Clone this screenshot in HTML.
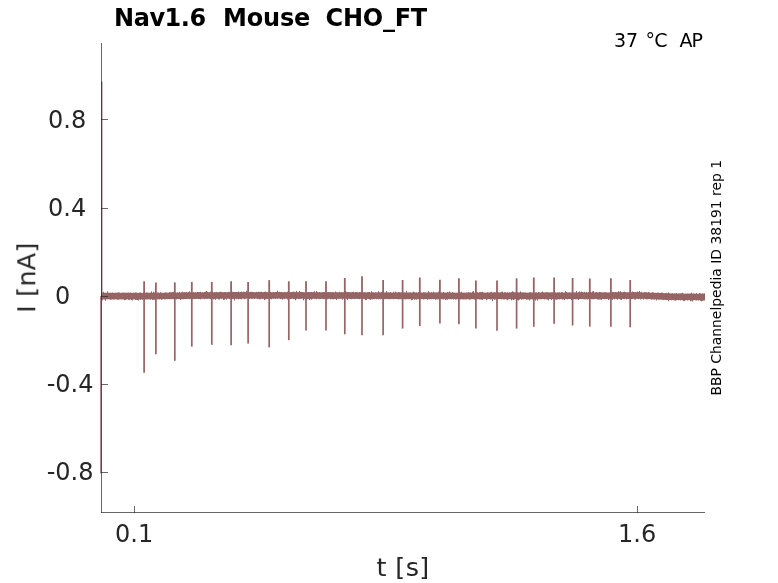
<!DOCTYPE html>
<html><head><meta charset="utf-8"><style>
html,body{margin:0;padding:0;background:#fff;width:778px;height:583px;overflow:hidden}
svg{display:block}
text{font-family:"DejaVu Sans","Liberation Sans",sans-serif;fill:#262626}
</style></head><body>
<svg width="778" height="583" viewBox="0 0 778 583">
<rect width="778" height="583" fill="#fff"/>
<g fill="#966464" stroke="none"><rect x="101" y="292.29" width="1" height="7.73"/><rect x="102" y="292.76" width="1" height="7.51"/><rect x="103" y="291.90" width="1" height="7.41"/><rect x="104" y="292.70" width="1" height="6.87"/><rect x="105" y="292.83" width="1" height="7.97"/><rect x="106" y="292.74" width="1" height="6.67"/><rect x="107" y="291.40" width="1" height="7.93"/><rect x="108" y="292.61" width="1" height="6.72"/><rect x="109" y="292.87" width="1" height="6.58"/><rect x="110" y="292.61" width="1" height="7.14"/><rect x="111" y="292.77" width="1" height="6.81"/><rect x="112" y="292.48" width="1" height="7.00"/><rect x="113" y="292.84" width="1" height="6.69"/><rect x="114" y="292.84" width="1" height="6.65"/><rect x="115" y="292.69" width="1" height="6.70"/><rect x="116" y="292.61" width="1" height="6.87"/><rect x="117" y="292.69" width="1" height="6.91"/><rect x="118" y="292.25" width="1" height="7.63"/><rect x="119" y="292.54" width="1" height="6.81"/><rect x="120" y="292.89" width="1" height="6.47"/><rect x="121" y="292.67" width="1" height="6.80"/><rect x="122" y="292.71" width="1" height="6.78"/><rect x="123" y="292.46" width="1" height="6.97"/><rect x="124" y="292.73" width="1" height="7.52"/><rect x="125" y="292.67" width="1" height="7.33"/><rect x="126" y="292.65" width="1" height="6.83"/><rect x="127" y="292.74" width="1" height="6.58"/><rect x="128" y="292.45" width="1" height="7.41"/><rect x="129" y="292.74" width="1" height="7.19"/><rect x="130" y="292.51" width="1" height="7.03"/><rect x="131" y="292.71" width="1" height="7.16"/><rect x="132" y="292.85" width="1" height="7.50"/><rect x="133" y="292.62" width="1" height="6.87"/><rect x="134" y="292.76" width="1" height="6.63"/><rect x="135" y="292.39" width="1" height="7.60"/><rect x="136" y="292.50" width="1" height="7.45"/><rect x="137" y="292.87" width="1" height="7.12"/><rect x="138" y="292.87" width="1" height="7.62"/><rect x="139" y="292.56" width="1" height="6.81"/><rect x="140" y="292.39" width="1" height="7.49"/><rect x="141" y="292.86" width="1" height="6.64"/><rect x="142" y="292.85" width="1" height="6.88"/><rect x="143" y="292.66" width="1" height="6.76"/><rect x="144" y="292.25" width="1" height="7.01"/><rect x="145" y="292.68" width="1" height="6.75"/><rect x="146" y="292.42" width="1" height="7.03"/><rect x="147" y="292.61" width="1" height="6.85"/><rect x="148" y="292.59" width="1" height="6.71"/><rect x="149" y="292.82" width="1" height="6.49"/><rect x="150" y="292.67" width="1" height="7.10"/><rect x="151" y="291.38" width="1" height="7.87"/><rect x="152" y="292.82" width="1" height="7.05"/><rect x="153" y="291.75" width="1" height="8.10"/><rect x="154" y="292.47" width="1" height="7.32"/><rect x="155" y="291.73" width="1" height="7.62"/><rect x="156" y="292.79" width="1" height="6.43"/><rect x="157" y="292.46" width="1" height="6.90"/><rect x="158" y="292.62" width="1" height="6.57"/><rect x="159" y="292.74" width="1" height="6.72"/><rect x="160" y="292.11" width="1" height="7.09"/><rect x="161" y="292.77" width="1" height="7.05"/><rect x="162" y="292.73" width="1" height="6.58"/><rect x="163" y="292.73" width="1" height="6.40"/><rect x="164" y="292.59" width="1" height="6.82"/><rect x="165" y="292.38" width="1" height="6.93"/><rect x="166" y="292.56" width="1" height="6.56"/><rect x="167" y="292.65" width="1" height="6.53"/><rect x="168" y="292.65" width="1" height="6.44"/><rect x="169" y="292.15" width="1" height="7.01"/><rect x="170" y="292.25" width="1" height="6.96"/><rect x="171" y="292.22" width="1" height="6.98"/><rect x="172" y="292.12" width="1" height="6.93"/><rect x="173" y="291.99" width="1" height="7.19"/><rect x="174" y="292.25" width="1" height="8.09"/><rect x="175" y="292.39" width="1" height="6.75"/><rect x="176" y="292.63" width="1" height="6.70"/><rect x="177" y="292.36" width="1" height="6.70"/><rect x="178" y="292.52" width="1" height="6.58"/><rect x="179" y="291.82" width="1" height="7.28"/><rect x="180" y="292.56" width="1" height="7.26"/><rect x="181" y="292.35" width="1" height="7.01"/><rect x="182" y="291.66" width="1" height="7.51"/><rect x="183" y="292.28" width="1" height="6.99"/><rect x="184" y="292.12" width="1" height="6.82"/><rect x="185" y="292.29" width="1" height="6.84"/><rect x="186" y="291.84" width="1" height="7.15"/><rect x="187" y="292.41" width="1" height="6.56"/><rect x="188" y="292.04" width="1" height="6.85"/><rect x="189" y="291.27" width="1" height="7.87"/><rect x="190" y="292.29" width="1" height="6.63"/><rect x="191" y="291.96" width="1" height="6.99"/><rect x="192" y="292.40" width="1" height="6.78"/><rect x="193" y="292.06" width="1" height="7.00"/><rect x="194" y="292.37" width="1" height="6.68"/><rect x="195" y="292.09" width="1" height="6.85"/><rect x="196" y="292.39" width="1" height="6.55"/><rect x="197" y="291.99" width="1" height="6.92"/><rect x="198" y="291.99" width="1" height="7.07"/><rect x="199" y="292.09" width="1" height="6.90"/><rect x="200" y="291.79" width="1" height="7.57"/><rect x="201" y="292.29" width="1" height="6.59"/><rect x="202" y="292.23" width="1" height="6.55"/><rect x="203" y="292.36" width="1" height="6.40"/><rect x="204" y="292.07" width="1" height="7.06"/><rect x="205" y="291.71" width="1" height="7.04"/><rect x="206" y="291.00" width="1" height="7.97"/><rect x="207" y="291.74" width="1" height="7.17"/><rect x="208" y="292.23" width="1" height="6.51"/><rect x="209" y="292.15" width="1" height="6.71"/><rect x="210" y="291.72" width="1" height="7.38"/><rect x="211" y="292.24" width="1" height="6.72"/><rect x="212" y="291.68" width="1" height="7.06"/><rect x="213" y="292.34" width="1" height="7.04"/><rect x="214" y="292.02" width="1" height="6.91"/><rect x="215" y="292.30" width="1" height="7.55"/><rect x="216" y="291.91" width="1" height="6.95"/><rect x="217" y="292.24" width="1" height="6.47"/><rect x="218" y="292.21" width="1" height="7.30"/><rect x="219" y="291.92" width="1" height="7.48"/><rect x="220" y="291.83" width="1" height="6.86"/><rect x="221" y="291.81" width="1" height="7.14"/><rect x="222" y="292.26" width="1" height="6.40"/><rect x="223" y="292.18" width="1" height="7.78"/><rect x="224" y="292.09" width="1" height="7.60"/><rect x="225" y="292.04" width="1" height="6.76"/><rect x="226" y="292.24" width="1" height="7.38"/><rect x="227" y="292.20" width="1" height="6.45"/><rect x="228" y="291.78" width="1" height="6.94"/><rect x="229" y="292.05" width="1" height="7.03"/><rect x="230" y="291.90" width="1" height="6.75"/><rect x="231" y="292.00" width="1" height="6.88"/><rect x="232" y="291.76" width="1" height="7.25"/><rect x="233" y="291.92" width="1" height="6.99"/><rect x="234" y="291.97" width="1" height="8.56"/><rect x="235" y="291.94" width="1" height="6.81"/><rect x="236" y="291.99" width="1" height="7.22"/><rect x="237" y="292.07" width="1" height="6.68"/><rect x="238" y="291.47" width="1" height="7.88"/><rect x="239" y="292.13" width="1" height="6.78"/><rect x="240" y="292.00" width="1" height="6.97"/><rect x="241" y="291.56" width="1" height="7.88"/><rect x="242" y="292.14" width="1" height="6.44"/><rect x="243" y="291.61" width="1" height="7.18"/><rect x="244" y="291.98" width="1" height="7.22"/><rect x="245" y="292.14" width="1" height="6.63"/><rect x="246" y="290.75" width="1" height="7.92"/><rect x="247" y="291.92" width="1" height="6.65"/><rect x="248" y="291.98" width="1" height="7.54"/><rect x="249" y="292.11" width="1" height="6.87"/><rect x="250" y="291.79" width="1" height="6.84"/><rect x="251" y="291.76" width="1" height="7.10"/><rect x="252" y="291.95" width="1" height="6.92"/><rect x="253" y="292.08" width="1" height="6.62"/><rect x="254" y="292.16" width="1" height="6.65"/><rect x="255" y="292.17" width="1" height="6.46"/><rect x="256" y="291.84" width="1" height="6.73"/><rect x="257" y="292.11" width="1" height="7.08"/><rect x="258" y="291.73" width="1" height="7.13"/><rect x="259" y="291.98" width="1" height="7.31"/><rect x="260" y="291.90" width="1" height="7.37"/><rect x="261" y="291.71" width="1" height="7.03"/><rect x="262" y="292.16" width="1" height="6.80"/><rect x="263" y="292.12" width="1" height="6.70"/><rect x="264" y="291.85" width="1" height="8.12"/><rect x="265" y="291.58" width="1" height="7.81"/><rect x="266" y="292.09" width="1" height="7.04"/><rect x="267" y="292.19" width="1" height="6.78"/><rect x="268" y="292.13" width="1" height="6.46"/><rect x="269" y="290.53" width="1" height="8.17"/><rect x="270" y="291.89" width="1" height="7.11"/><rect x="271" y="292.20" width="1" height="7.12"/><rect x="272" y="292.24" width="1" height="6.48"/><rect x="273" y="291.95" width="1" height="6.81"/><rect x="274" y="292.18" width="1" height="6.54"/><rect x="275" y="291.99" width="1" height="6.92"/><rect x="276" y="291.93" width="1" height="6.69"/><rect x="277" y="290.66" width="1" height="8.25"/><rect x="278" y="292.06" width="1" height="6.56"/><rect x="279" y="291.72" width="1" height="6.91"/><rect x="280" y="292.10" width="1" height="7.01"/><rect x="281" y="291.90" width="1" height="7.00"/><rect x="282" y="292.20" width="1" height="7.37"/><rect x="283" y="292.23" width="1" height="6.60"/><rect x="284" y="291.81" width="1" height="7.32"/><rect x="285" y="292.21" width="1" height="6.42"/><rect x="286" y="292.12" width="1" height="6.56"/><rect x="287" y="291.72" width="1" height="7.80"/><rect x="288" y="292.20" width="1" height="7.13"/><rect x="289" y="291.93" width="1" height="6.92"/><rect x="290" y="292.20" width="1" height="6.86"/><rect x="291" y="292.00" width="1" height="6.86"/><rect x="292" y="291.89" width="1" height="6.76"/><rect x="293" y="291.60" width="1" height="7.53"/><rect x="294" y="291.82" width="1" height="7.27"/><rect x="295" y="292.09" width="1" height="8.17"/><rect x="296" y="290.91" width="1" height="8.23"/><rect x="297" y="292.26" width="1" height="6.40"/><rect x="298" y="292.15" width="1" height="6.93"/><rect x="299" y="290.94" width="1" height="7.93"/><rect x="300" y="291.93" width="1" height="7.01"/><rect x="301" y="291.87" width="1" height="6.94"/><rect x="302" y="292.05" width="1" height="6.63"/><rect x="303" y="292.14" width="1" height="8.21"/><rect x="304" y="292.26" width="1" height="6.67"/><rect x="305" y="292.09" width="1" height="6.60"/><rect x="306" y="292.26" width="1" height="7.68"/><rect x="307" y="292.14" width="1" height="6.90"/><rect x="308" y="292.01" width="1" height="6.97"/><rect x="309" y="292.06" width="1" height="8.01"/><rect x="310" y="292.09" width="1" height="6.87"/><rect x="311" y="291.97" width="1" height="7.80"/><rect x="312" y="292.17" width="1" height="6.75"/><rect x="313" y="291.83" width="1" height="6.86"/><rect x="314" y="291.27" width="1" height="7.63"/><rect x="315" y="292.32" width="1" height="6.52"/><rect x="316" y="291.00" width="1" height="8.27"/><rect x="317" y="292.00" width="1" height="6.85"/><rect x="318" y="292.33" width="1" height="6.40"/><rect x="319" y="291.93" width="1" height="7.29"/><rect x="320" y="292.28" width="1" height="6.80"/><rect x="321" y="292.26" width="1" height="6.49"/><rect x="322" y="292.07" width="1" height="6.84"/><rect x="323" y="292.11" width="1" height="6.99"/><rect x="324" y="292.04" width="1" height="7.02"/><rect x="325" y="292.30" width="1" height="6.60"/><rect x="326" y="292.34" width="1" height="6.91"/><rect x="327" y="292.15" width="1" height="7.11"/><rect x="328" y="291.96" width="1" height="6.88"/><rect x="329" y="292.18" width="1" height="6.67"/><rect x="330" y="292.10" width="1" height="7.24"/><rect x="331" y="292.17" width="1" height="6.77"/><rect x="332" y="292.08" width="1" height="7.24"/><rect x="333" y="292.20" width="1" height="7.11"/><rect x="334" y="292.25" width="1" height="6.74"/><rect x="335" y="291.52" width="1" height="7.51"/><rect x="336" y="292.07" width="1" height="7.90"/><rect x="337" y="292.35" width="1" height="6.40"/><rect x="338" y="292.29" width="1" height="6.61"/><rect x="339" y="291.84" width="1" height="7.02"/><rect x="340" y="292.27" width="1" height="6.50"/><rect x="341" y="292.18" width="1" height="6.69"/><rect x="342" y="292.07" width="1" height="7.68"/><rect x="343" y="292.23" width="1" height="6.52"/><rect x="344" y="292.27" width="1" height="6.60"/><rect x="345" y="291.00" width="1" height="7.78"/><rect x="346" y="291.89" width="1" height="6.98"/><rect x="347" y="292.10" width="1" height="8.04"/><rect x="348" y="292.07" width="1" height="6.73"/><rect x="349" y="292.13" width="1" height="6.72"/><rect x="350" y="292.20" width="1" height="6.80"/><rect x="351" y="292.20" width="1" height="6.91"/><rect x="352" y="291.96" width="1" height="7.00"/><rect x="353" y="291.77" width="1" height="6.99"/><rect x="354" y="292.38" width="1" height="6.75"/><rect x="355" y="292.11" width="1" height="6.78"/><rect x="356" y="292.05" width="1" height="6.86"/><rect x="357" y="292.22" width="1" height="6.70"/><rect x="358" y="292.40" width="1" height="6.66"/><rect x="359" y="292.05" width="1" height="7.14"/><rect x="360" y="292.04" width="1" height="6.76"/><rect x="361" y="292.42" width="1" height="6.53"/><rect x="362" y="291.86" width="1" height="7.18"/><rect x="363" y="292.25" width="1" height="6.56"/><rect x="364" y="292.22" width="1" height="6.89"/><rect x="365" y="292.18" width="1" height="7.98"/><rect x="366" y="292.43" width="1" height="7.50"/><rect x="367" y="292.16" width="1" height="6.70"/><rect x="368" y="292.06" width="1" height="7.09"/><rect x="369" y="292.05" width="1" height="7.22"/><rect x="370" y="292.44" width="1" height="7.46"/><rect x="371" y="291.16" width="1" height="8.13"/><rect x="372" y="292.16" width="1" height="7.08"/><rect x="373" y="292.36" width="1" height="6.65"/><rect x="374" y="292.46" width="1" height="6.66"/><rect x="375" y="292.14" width="1" height="6.72"/><rect x="376" y="292.28" width="1" height="6.94"/><rect x="377" y="292.49" width="1" height="6.46"/><rect x="378" y="291.20" width="1" height="8.11"/><rect x="379" y="292.30" width="1" height="6.57"/><rect x="380" y="292.37" width="1" height="6.95"/><rect x="381" y="291.87" width="1" height="7.05"/><rect x="382" y="291.51" width="1" height="7.42"/><rect x="383" y="292.43" width="1" height="6.80"/><rect x="384" y="292.41" width="1" height="6.71"/><rect x="385" y="292.45" width="1" height="6.66"/><rect x="386" y="291.13" width="1" height="7.95"/><rect x="387" y="292.31" width="1" height="6.68"/><rect x="388" y="292.30" width="1" height="6.92"/><rect x="389" y="292.55" width="1" height="6.71"/><rect x="390" y="292.02" width="1" height="6.89"/><rect x="391" y="292.52" width="1" height="6.61"/><rect x="392" y="292.57" width="1" height="6.45"/><rect x="393" y="291.86" width="1" height="7.41"/><rect x="394" y="292.44" width="1" height="6.57"/><rect x="395" y="291.55" width="1" height="7.40"/><rect x="396" y="292.32" width="1" height="6.81"/><rect x="397" y="292.46" width="1" height="6.65"/><rect x="398" y="292.04" width="1" height="7.29"/><rect x="399" y="292.17" width="1" height="7.11"/><rect x="400" y="292.33" width="1" height="6.80"/><rect x="401" y="292.37" width="1" height="6.82"/><rect x="402" y="292.10" width="1" height="7.13"/><rect x="403" y="292.38" width="1" height="6.77"/><rect x="404" y="292.42" width="1" height="6.79"/><rect x="405" y="292.44" width="1" height="6.97"/><rect x="406" y="290.94" width="1" height="8.30"/><rect x="407" y="292.46" width="1" height="6.66"/><rect x="408" y="292.44" width="1" height="6.84"/><rect x="409" y="292.30" width="1" height="6.89"/><rect x="410" y="292.37" width="1" height="6.82"/><rect x="411" y="292.61" width="1" height="7.63"/><rect x="412" y="292.33" width="1" height="7.47"/><rect x="413" y="291.66" width="1" height="7.33"/><rect x="414" y="292.19" width="1" height="7.57"/><rect x="415" y="292.47" width="1" height="6.89"/><rect x="416" y="292.32" width="1" height="7.23"/><rect x="417" y="292.57" width="1" height="6.73"/><rect x="418" y="292.00" width="1" height="7.22"/><rect x="419" y="292.31" width="1" height="6.71"/><rect x="420" y="292.23" width="1" height="7.01"/><rect x="421" y="292.50" width="1" height="6.58"/><rect x="422" y="292.58" width="1" height="6.42"/><rect x="423" y="292.16" width="1" height="7.28"/><rect x="424" y="292.32" width="1" height="6.87"/><rect x="425" y="292.34" width="1" height="6.76"/><rect x="426" y="292.57" width="1" height="6.51"/><rect x="427" y="292.55" width="1" height="7.18"/><rect x="428" y="291.10" width="1" height="8.07"/><rect x="429" y="292.31" width="1" height="6.91"/><rect x="430" y="292.55" width="1" height="6.50"/><rect x="431" y="292.08" width="1" height="7.14"/><rect x="432" y="292.53" width="1" height="6.52"/><rect x="433" y="291.71" width="1" height="7.55"/><rect x="434" y="292.40" width="1" height="6.63"/><rect x="435" y="292.49" width="1" height="7.27"/><rect x="436" y="292.33" width="1" height="7.08"/><rect x="437" y="292.45" width="1" height="6.91"/><rect x="438" y="291.58" width="1" height="7.73"/><rect x="439" y="292.25" width="1" height="6.93"/><rect x="440" y="292.58" width="1" height="6.79"/><rect x="441" y="292.34" width="1" height="6.74"/><rect x="442" y="292.51" width="1" height="6.78"/><rect x="443" y="292.00" width="1" height="7.39"/><rect x="444" y="292.56" width="1" height="6.55"/><rect x="445" y="292.59" width="1" height="7.31"/><rect x="446" y="292.55" width="1" height="6.97"/><rect x="447" y="292.04" width="1" height="7.62"/><rect x="448" y="292.40" width="1" height="6.66"/><rect x="449" y="291.59" width="1" height="7.66"/><rect x="450" y="292.43" width="1" height="6.78"/><rect x="451" y="292.62" width="1" height="6.63"/><rect x="452" y="291.91" width="1" height="7.24"/><rect x="453" y="292.55" width="1" height="6.97"/><rect x="454" y="292.66" width="1" height="6.40"/><rect x="455" y="292.69" width="1" height="6.93"/><rect x="456" y="292.66" width="1" height="6.72"/><rect x="457" y="292.64" width="1" height="6.50"/><rect x="458" y="292.33" width="1" height="7.99"/><rect x="459" y="291.88" width="1" height="7.66"/><rect x="460" y="292.43" width="1" height="7.02"/><rect x="461" y="291.78" width="1" height="7.46"/><rect x="462" y="292.63" width="1" height="6.75"/><rect x="463" y="292.58" width="1" height="6.89"/><rect x="464" y="292.66" width="1" height="6.76"/><rect x="465" y="292.68" width="1" height="6.53"/><rect x="466" y="292.32" width="1" height="7.18"/><rect x="467" y="292.57" width="1" height="6.65"/><rect x="468" y="292.18" width="1" height="7.14"/><rect x="469" y="292.26" width="1" height="7.35"/><rect x="470" y="292.41" width="1" height="7.12"/><rect x="471" y="292.58" width="1" height="6.62"/><rect x="472" y="291.67" width="1" height="7.45"/><rect x="473" y="291.10" width="1" height="8.26"/><rect x="474" y="292.70" width="1" height="6.78"/><rect x="475" y="292.09" width="1" height="8.19"/><rect x="476" y="291.60" width="1" height="7.92"/><rect x="477" y="292.21" width="1" height="7.13"/><rect x="478" y="292.51" width="1" height="6.68"/><rect x="479" y="292.13" width="1" height="7.35"/><rect x="480" y="292.06" width="1" height="7.42"/><rect x="481" y="292.06" width="1" height="7.55"/><rect x="482" y="291.76" width="1" height="8.02"/><rect x="483" y="292.47" width="1" height="6.70"/><rect x="484" y="292.57" width="1" height="6.53"/><rect x="485" y="292.65" width="1" height="6.45"/><rect x="486" y="292.69" width="1" height="7.47"/><rect x="487" y="292.10" width="1" height="7.18"/><rect x="488" y="292.50" width="1" height="6.62"/><rect x="489" y="292.47" width="1" height="6.64"/><rect x="490" y="292.13" width="1" height="7.39"/><rect x="491" y="291.75" width="1" height="7.49"/><rect x="492" y="292.49" width="1" height="8.66"/><rect x="493" y="292.40" width="1" height="6.75"/><rect x="494" y="292.07" width="1" height="7.66"/><rect x="495" y="292.43" width="1" height="7.03"/><rect x="496" y="292.55" width="1" height="6.77"/><rect x="497" y="292.09" width="1" height="6.99"/><rect x="498" y="292.19" width="1" height="7.04"/><rect x="499" y="292.56" width="1" height="6.58"/><rect x="500" y="292.22" width="1" height="6.91"/><rect x="501" y="291.87" width="1" height="7.48"/><rect x="502" y="291.48" width="1" height="7.71"/><rect x="503" y="292.69" width="1" height="6.71"/><rect x="504" y="292.19" width="1" height="7.30"/><rect x="505" y="292.31" width="1" height="6.76"/><rect x="506" y="292.54" width="1" height="7.00"/><rect x="507" y="292.30" width="1" height="7.86"/><rect x="508" y="292.54" width="1" height="6.91"/><rect x="509" y="292.28" width="1" height="6.80"/><rect x="510" y="292.42" width="1" height="6.80"/><rect x="511" y="292.13" width="1" height="8.24"/><rect x="512" y="291.32" width="1" height="8.15"/><rect x="513" y="291.86" width="1" height="8.25"/><rect x="514" y="292.28" width="1" height="7.15"/><rect x="515" y="292.25" width="1" height="6.80"/><rect x="516" y="292.21" width="1" height="6.94"/><rect x="517" y="292.06" width="1" height="8.05"/><rect x="518" y="292.51" width="1" height="7.91"/><rect x="519" y="292.39" width="1" height="7.24"/><rect x="520" y="291.45" width="1" height="7.62"/><rect x="521" y="292.29" width="1" height="7.36"/><rect x="522" y="292.33" width="1" height="6.91"/><rect x="523" y="292.47" width="1" height="6.93"/><rect x="524" y="292.38" width="1" height="6.70"/><rect x="525" y="292.47" width="1" height="6.71"/><rect x="526" y="292.61" width="1" height="7.07"/><rect x="527" y="292.69" width="1" height="6.87"/><rect x="528" y="292.63" width="1" height="6.86"/><rect x="529" y="292.19" width="1" height="8.28"/><rect x="530" y="292.20" width="1" height="7.28"/><rect x="531" y="292.40" width="1" height="6.77"/><rect x="532" y="292.52" width="1" height="6.95"/><rect x="533" y="292.44" width="1" height="6.87"/><rect x="534" y="292.57" width="1" height="6.86"/><rect x="535" y="292.46" width="1" height="8.12"/><rect x="536" y="292.26" width="1" height="7.11"/><rect x="537" y="292.67" width="1" height="7.91"/><rect x="538" y="291.91" width="1" height="7.23"/><rect x="539" y="292.18" width="1" height="7.06"/><rect x="540" y="292.63" width="1" height="6.78"/><rect x="541" y="292.19" width="1" height="6.91"/><rect x="542" y="291.48" width="1" height="7.69"/><rect x="543" y="292.32" width="1" height="6.75"/><rect x="544" y="292.45" width="1" height="6.94"/><rect x="545" y="292.24" width="1" height="7.05"/><rect x="546" y="292.19" width="1" height="7.06"/><rect x="547" y="292.17" width="1" height="7.44"/><rect x="548" y="292.34" width="1" height="8.02"/><rect x="549" y="292.35" width="1" height="6.74"/><rect x="550" y="292.47" width="1" height="6.60"/><rect x="551" y="292.30" width="1" height="7.79"/><rect x="552" y="292.18" width="1" height="7.00"/><rect x="553" y="292.52" width="1" height="6.56"/><rect x="554" y="292.45" width="1" height="7.39"/><rect x="555" y="292.33" width="1" height="7.16"/><rect x="556" y="292.52" width="1" height="7.31"/><rect x="557" y="292.24" width="1" height="7.13"/><rect x="558" y="292.51" width="1" height="6.63"/><rect x="559" y="292.17" width="1" height="7.28"/><rect x="560" y="292.55" width="1" height="6.58"/><rect x="561" y="292.13" width="1" height="7.05"/><rect x="562" y="292.23" width="1" height="7.35"/><rect x="563" y="292.61" width="1" height="6.65"/><rect x="564" y="292.47" width="1" height="7.73"/><rect x="565" y="291.21" width="1" height="7.89"/><rect x="566" y="292.03" width="1" height="6.98"/><rect x="567" y="292.48" width="1" height="6.86"/><rect x="568" y="292.49" width="1" height="6.51"/><rect x="569" y="292.26" width="1" height="6.72"/><rect x="570" y="292.43" width="1" height="6.55"/><rect x="571" y="292.44" width="1" height="7.66"/><rect x="572" y="292.02" width="1" height="7.60"/><rect x="573" y="292.41" width="1" height="6.80"/><rect x="574" y="292.34" width="1" height="6.68"/><rect x="575" y="292.43" width="1" height="6.90"/><rect x="576" y="290.97" width="1" height="8.24"/><rect x="577" y="292.58" width="1" height="6.64"/><rect x="578" y="292.30" width="1" height="7.65"/><rect x="579" y="291.39" width="1" height="7.85"/><rect x="580" y="292.21" width="1" height="6.78"/><rect x="581" y="291.55" width="1" height="7.43"/><rect x="582" y="291.94" width="1" height="7.04"/><rect x="583" y="292.38" width="1" height="6.72"/><rect x="584" y="291.81" width="1" height="7.50"/><rect x="585" y="292.39" width="1" height="6.98"/><rect x="586" y="291.82" width="1" height="7.30"/><rect x="587" y="292.53" width="1" height="7.04"/><rect x="588" y="292.01" width="1" height="7.16"/><rect x="589" y="292.52" width="1" height="6.44"/><rect x="590" y="291.88" width="1" height="7.02"/><rect x="591" y="292.40" width="1" height="6.80"/><rect x="592" y="291.50" width="1" height="7.70"/><rect x="593" y="290.99" width="1" height="8.19"/><rect x="594" y="292.40" width="1" height="6.73"/><rect x="595" y="292.30" width="1" height="6.61"/><rect x="596" y="292.09" width="1" height="6.94"/><rect x="597" y="292.40" width="1" height="7.06"/><rect x="598" y="292.34" width="1" height="7.26"/><rect x="599" y="291.94" width="1" height="7.57"/><rect x="600" y="292.17" width="1" height="7.34"/><rect x="601" y="292.22" width="1" height="7.63"/><rect x="602" y="292.36" width="1" height="6.56"/><rect x="603" y="292.30" width="1" height="6.69"/><rect x="604" y="292.26" width="1" height="6.88"/><rect x="605" y="292.10" width="1" height="7.03"/><rect x="606" y="292.40" width="1" height="6.68"/><rect x="607" y="292.44" width="1" height="6.50"/><rect x="608" y="292.43" width="1" height="7.61"/><rect x="609" y="292.42" width="1" height="6.89"/><rect x="610" y="292.18" width="1" height="6.71"/><rect x="611" y="292.44" width="1" height="6.46"/><rect x="612" y="291.86" width="1" height="7.92"/><rect x="613" y="292.02" width="1" height="6.82"/><rect x="614" y="292.23" width="1" height="7.13"/><rect x="615" y="292.05" width="1" height="6.74"/><rect x="616" y="292.14" width="1" height="6.93"/><rect x="617" y="292.22" width="1" height="7.48"/><rect x="618" y="291.09" width="1" height="7.74"/><rect x="619" y="291.86" width="1" height="7.17"/><rect x="620" y="291.24" width="1" height="8.42"/><rect x="621" y="292.19" width="1" height="7.81"/><rect x="622" y="292.15" width="1" height="6.73"/><rect x="623" y="292.06" width="1" height="6.96"/><rect x="624" y="291.66" width="1" height="7.54"/><rect x="625" y="292.05" width="1" height="6.79"/><rect x="626" y="292.29" width="1" height="7.04"/><rect x="627" y="292.19" width="1" height="6.73"/><rect x="628" y="292.29" width="1" height="6.71"/><rect x="629" y="291.78" width="1" height="7.09"/><rect x="630" y="292.21" width="1" height="7.40"/><rect x="631" y="292.21" width="1" height="6.94"/><rect x="632" y="291.59" width="1" height="7.34"/><rect x="633" y="291.85" width="1" height="7.03"/><rect x="634" y="292.12" width="1" height="7.33"/><rect x="635" y="292.05" width="1" height="7.37"/><rect x="636" y="292.12" width="1" height="6.65"/><rect x="637" y="291.62" width="1" height="7.30"/><rect x="638" y="292.06" width="1" height="7.06"/><rect x="639" y="291.04" width="1" height="7.84"/><rect x="640" y="292.27" width="1" height="7.09"/><rect x="641" y="291.95" width="1" height="7.03"/><rect x="642" y="292.39" width="1" height="6.42"/><rect x="643" y="292.37" width="1" height="7.16"/><rect x="644" y="292.15" width="1" height="6.69"/><rect x="645" y="292.09" width="1" height="6.96"/><rect x="646" y="292.25" width="1" height="7.10"/><rect x="647" y="292.46" width="1" height="6.86"/><rect x="648" y="292.00" width="1" height="7.21"/><rect x="649" y="292.34" width="1" height="6.73"/><rect x="650" y="292.70" width="1" height="6.46"/><rect x="651" y="292.67" width="1" height="7.10"/><rect x="652" y="292.12" width="1" height="7.31"/><rect x="653" y="292.44" width="1" height="7.01"/><rect x="654" y="292.76" width="1" height="6.87"/><rect x="655" y="292.79" width="1" height="6.58"/><rect x="656" y="292.78" width="1" height="7.62"/><rect x="657" y="292.68" width="1" height="6.73"/><rect x="658" y="292.67" width="1" height="6.98"/><rect x="659" y="292.82" width="1" height="6.92"/><rect x="660" y="293.00" width="1" height="6.64"/><rect x="661" y="292.46" width="1" height="7.09"/><rect x="662" y="292.77" width="1" height="7.08"/><rect x="663" y="293.11" width="1" height="6.98"/><rect x="664" y="293.23" width="1" height="6.64"/><rect x="665" y="293.02" width="1" height="6.75"/><rect x="666" y="293.09" width="1" height="6.96"/><rect x="667" y="293.14" width="1" height="6.84"/><rect x="668" y="292.44" width="1" height="8.68"/><rect x="669" y="293.22" width="1" height="6.73"/><rect x="670" y="293.36" width="1" height="6.74"/><rect x="671" y="293.35" width="1" height="6.94"/><rect x="672" y="293.15" width="1" height="6.77"/><rect x="673" y="293.51" width="1" height="6.61"/><rect x="674" y="293.30" width="1" height="7.12"/><rect x="675" y="293.45" width="1" height="7.24"/><rect x="676" y="293.07" width="1" height="7.19"/><rect x="677" y="293.48" width="1" height="6.44"/><rect x="678" y="293.50" width="1" height="6.73"/><rect x="679" y="293.34" width="1" height="6.73"/><rect x="680" y="293.33" width="1" height="7.09"/><rect x="681" y="293.24" width="1" height="6.90"/><rect x="682" y="292.78" width="1" height="7.47"/><rect x="683" y="293.46" width="1" height="7.46"/><rect x="684" y="293.61" width="1" height="7.46"/><rect x="685" y="293.59" width="1" height="6.64"/><rect x="686" y="293.62" width="1" height="6.50"/><rect x="687" y="293.47" width="1" height="7.05"/><rect x="688" y="293.55" width="1" height="6.68"/><rect x="689" y="293.51" width="1" height="6.55"/><rect x="690" y="293.39" width="1" height="7.91"/><rect x="691" y="292.64" width="1" height="7.98"/><rect x="692" y="293.62" width="1" height="7.91"/><rect x="693" y="293.33" width="1" height="6.93"/><rect x="694" y="293.65" width="1" height="6.48"/><rect x="695" y="293.62" width="1" height="6.60"/><rect x="696" y="293.17" width="1" height="7.31"/><rect x="697" y="293.66" width="1" height="6.55"/><rect x="698" y="293.68" width="1" height="6.89"/><rect x="699" y="293.14" width="1" height="7.13"/><rect x="700" y="293.28" width="1" height="7.46"/><rect x="701" y="293.66" width="1" height="7.56"/><rect x="702" y="293.33" width="1" height="7.60"/><rect x="703" y="293.65" width="1" height="6.88"/><rect x="704" y="293.34" width="1" height="7.10"/></g>
<g stroke="#966464" stroke-width="1.8" fill="none"><line x1="144.1" y1="281.3" x2="144.1" y2="297.0"/><line x1="144.1" y1="295.0" x2="144.1" y2="372.8" stroke-width="1.7"/><line x1="155.9" y1="282.6" x2="155.9" y2="296.9"/><line x1="155.9" y1="294.9" x2="155.9" y2="354.3" stroke-width="1.7"/><line x1="174.8" y1="282.4" x2="174.8" y2="296.8"/><line x1="174.8" y1="294.8" x2="174.8" y2="360.8" stroke-width="1.7"/><line x1="191.8" y1="281.9" x2="191.8" y2="296.6"/><line x1="191.8" y1="294.6" x2="191.8" y2="346.6" stroke-width="1.7"/><line x1="211.8" y1="281.9" x2="211.8" y2="296.5"/><line x1="211.8" y1="294.5" x2="211.8" y2="344.8" stroke-width="1.7"/><line x1="231.1" y1="281.3" x2="231.1" y2="296.4"/><line x1="231.1" y1="294.4" x2="231.1" y2="345.3" stroke-width="1.7"/><line x1="248.1" y1="281.9" x2="248.1" y2="296.3"/><line x1="248.1" y1="294.3" x2="248.1" y2="343.5" stroke-width="1.7"/><line x1="269.2" y1="280.1" x2="269.2" y2="296.3"/><line x1="269.2" y1="294.3" x2="269.2" y2="347.4" stroke-width="1.7"/><line x1="288.8" y1="281.3" x2="288.8" y2="296.4"/><line x1="288.8" y1="294.4" x2="288.8" y2="340.2" stroke-width="1.7"/><line x1="306.0" y1="281.3" x2="306.0" y2="296.4"/><line x1="306.0" y1="294.4" x2="306.0" y2="330.4" stroke-width="1.7"/><line x1="326.0" y1="281.3" x2="326.0" y2="296.5"/><line x1="326.0" y1="294.5" x2="326.0" y2="330.4" stroke-width="1.7"/><line x1="344.8" y1="278.0" x2="344.8" y2="296.5"/><line x1="344.8" y1="294.5" x2="344.8" y2="334.3" stroke-width="1.7"/><line x1="362.0" y1="276.2" x2="362.0" y2="296.5"/><line x1="362.0" y1="294.5" x2="362.0" y2="335.3" stroke-width="1.7"/><line x1="383.1" y1="280.0" x2="383.1" y2="296.6"/><line x1="383.1" y1="294.6" x2="383.1" y2="335.3" stroke-width="1.7"/><line x1="402.6" y1="280.0" x2="402.6" y2="296.7"/><line x1="402.6" y1="294.7" x2="402.6" y2="328.6" stroke-width="1.7"/><line x1="419.8" y1="277.5" x2="419.8" y2="296.7"/><line x1="419.8" y1="294.7" x2="419.8" y2="326.1" stroke-width="1.7"/><line x1="439.9" y1="279.8" x2="439.9" y2="296.8"/><line x1="439.9" y1="294.8" x2="439.9" y2="323.5" stroke-width="1.7"/><line x1="458.9" y1="278.3" x2="458.9" y2="296.8"/><line x1="458.9" y1="294.8" x2="458.9" y2="324.3" stroke-width="1.7"/><line x1="475.9" y1="280.6" x2="475.9" y2="296.8"/><line x1="475.9" y1="294.8" x2="475.9" y2="328.5" stroke-width="1.7"/><line x1="497.0" y1="280.6" x2="497.0" y2="296.8"/><line x1="497.0" y1="294.8" x2="497.0" y2="330.7" stroke-width="1.7"/><line x1="516.6" y1="278.3" x2="516.6" y2="296.8"/><line x1="516.6" y1="294.8" x2="516.6" y2="328.6" stroke-width="1.7"/><line x1="533.8" y1="277.5" x2="533.8" y2="296.8"/><line x1="533.8" y1="294.8" x2="533.8" y2="326.8" stroke-width="1.7"/><line x1="554.1" y1="277.5" x2="554.1" y2="296.8"/><line x1="554.1" y1="294.8" x2="554.1" y2="323.7" stroke-width="1.7"/><line x1="572.6" y1="278.0" x2="572.6" y2="296.7"/><line x1="572.6" y1="294.7" x2="572.6" y2="325.5" stroke-width="1.7"/><line x1="589.8" y1="278.5" x2="589.8" y2="296.6"/><line x1="589.8" y1="294.6" x2="589.8" y2="326.6" stroke-width="1.7"/><line x1="610.9" y1="278.3" x2="610.9" y2="296.5"/><line x1="610.9" y1="294.5" x2="610.9" y2="326.8" stroke-width="1.7"/><line x1="630.2" y1="280.0" x2="630.2" y2="296.4"/><line x1="630.2" y1="294.4" x2="630.2" y2="327.3" stroke-width="1.7"/>
<line x1="101.8" y1="81.6" x2="101.8" y2="296" stroke-width="1.3"/><line x1="100.9" y1="296" x2="100.9" y2="473.6" stroke-width="1.3"/></g>
<g fill="#262626" fill-opacity="0.7">
<rect x="101" y="43" width="1" height="470"/>
<rect x="101" y="512" width="604" height="1"/>
<rect x="101" y="119" width="7" height="1"/>
<rect x="101" y="208" width="7" height="1"/>
<rect x="101" y="296" width="7" height="1"/>
<rect x="101" y="384" width="7" height="1"/>
<rect x="101" y="472" width="7" height="1"/>
<rect x="134" y="506" width="1" height="7"/>
<rect x="637" y="506" width="1" height="7"/>
</g>
<g opacity="0.999">
<text x="114" y="26" style="font-weight:bold;font-size:24px;fill:#000;letter-spacing:-0.45px">Nav1.6</text>
<text x="223.1" y="26" style="font-weight:bold;font-size:24px;fill:#000;letter-spacing:-0.2px">Mouse</text>
<text x="325.6" y="26" style="font-weight:bold;font-size:24px;fill:#000;letter-spacing:-0.25px">CHO_FT</text>
<text x="614" y="47" style="font-size:19px;fill:#000">37</text>
<text x="645.6" y="47" style="font-size:19px;fill:#000;letter-spacing:-0.8px">°C</text>
<text x="679.6" y="47" style="font-size:19px;fill:#000;letter-spacing:-1.2px">AP</text>
<text x="48" y="128.2" style="font-size:24px">0.8</text>
<text x="48" y="216.4" style="font-size:24px">0.4</text>
<text x="55" y="304.45" style="font-size:24px">0</text>
<text x="46.7" y="392.4" style="font-size:24px">-0.4</text>
<text x="46.7" y="480.45" style="font-size:24px">-0.8</text>
<text x="115" y="542" style="font-size:24px">0.1</text>
<text x="618" y="542" style="font-size:24px">1.6</text>
<text x="376.4" y="576.3" style="font-size:25.5px;letter-spacing:0.4px" xml:space="preserve">t [s]</text>
<text transform="translate(35.3,312.8) rotate(-90)" style="font-size:25.5px;letter-spacing:0.2px" xml:space="preserve">I [nA]</text>
<text transform="translate(721,395.6) rotate(-90)" style="font-size:13.9px;fill:#000">BBP Channelpedia ID 38191 rep 1</text>
</g>
</svg>
</body></html>
